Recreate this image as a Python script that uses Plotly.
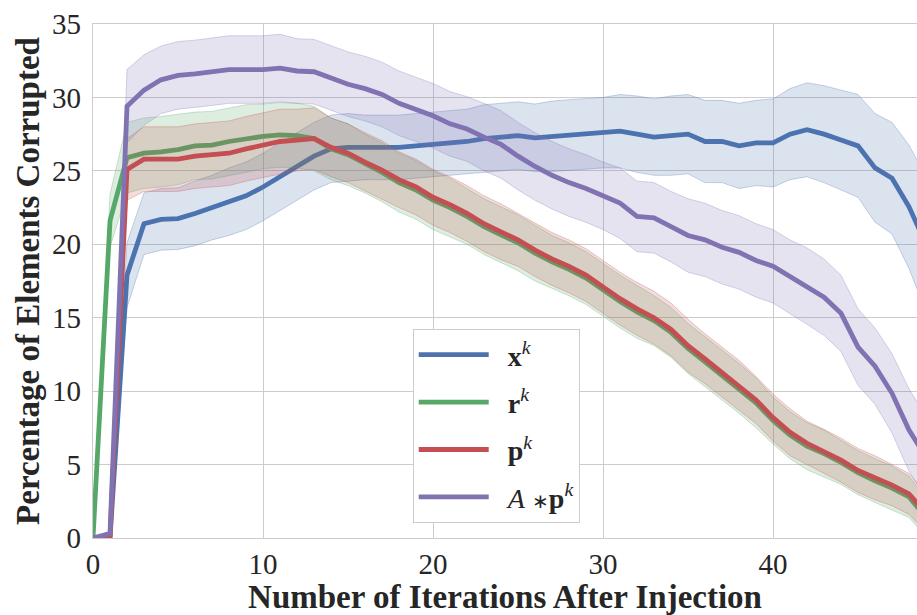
import plotly.graph_objects as go
import numpy as np

# Iterations after fault injection
iterations = list(range(50))

# Mean percentage of corrupted elements per vector
x_k = [0, 0, 17.9, 21.4, 21.7, 21.75, 22.1, 22.5, 22.9, 23.3,
       23.9, 24.6, 25.3, 26.0, 26.5, 26.6, 26.6, 26.6, 26.6, 26.7,
       26.8, 26.85, 27.0, 27.2, 27.3, 27.4, 27.25, 27.35, 27.45, 27.5,
       27.6, 27.7, 27.5, 27.3, 27.4, 27.5, 27.0, 27.0, 26.7, 26.9,
       26.9, 27.5, 27.8, 27.5, 27.1, 26.7, 25.2, 24.5, 22.55, 20.0]
r_k = [0, 21.6, 25.9, 26.2, 26.3, 26.45, 26.7, 26.75, 27.0, 27.2,
       27.35, 27.45, 27.4, 27.2, 26.5, 26.1, 25.5, 24.9, 24.2, 23.7,
       23.0, 22.5, 21.9, 21.2, 20.65, 20.1, 19.4, 18.8, 18.3, 17.7,
       16.9, 16.1, 15.4, 14.8, 14.0, 12.9, 12.0, 11.1, 10.2, 9.2,
       8.0, 7.0, 6.25, 5.75, 5.15, 4.45, 3.9, 3.4, 2.8, 1.4]
p_k = [0, 0, 25.1, 25.8, 25.8, 25.8, 26.0, 26.1, 26.2, 26.5,
       26.75, 27.0, 27.1, 27.2, 26.6, 26.2, 25.6, 25.05, 24.4, 23.9,
       23.2, 22.7, 22.1, 21.4, 20.85, 20.3, 19.6, 19.0, 18.5, 17.9,
       17.1, 16.3, 15.6, 15.0, 14.2, 13.1, 12.2, 11.3, 10.4, 9.4,
       8.2, 7.2, 6.45, 5.9, 5.3, 4.6, 4.1, 3.6, 3.0, 1.7]
Ap_k = [0, 0.3, 29.4, 30.5, 31.2, 31.5, 31.6, 31.75, 31.9, 31.9,
        31.9, 32.0, 31.8, 31.75, 31.3, 30.9, 30.6, 30.2, 29.6, 29.2,
        28.75, 28.2, 27.85, 27.3, 26.8, 26.0, 25.3, 24.7, 24.2, 23.8,
        23.3, 22.8, 21.9, 21.8, 21.2, 20.6, 20.3, 19.8, 19.45, 18.9,
        18.5, 17.8, 17.15, 16.4, 15.3, 13.0, 11.7, 9.85, 7.35, 5.5]

# Half-width of the uncertainty band around each mean
x_k_spread = [0, 0, 2.2, 2.1, 2.1, 2.1, 2.2, 2.2, 2.3, 2.3,
              2.3, 2.3, 2.3, 2.3, 2.3, 2.3, 2.2, 2.2, 2.2, 2.2,
              2.2, 2.2, 2.2, 2.3, 2.3, 2.3, 2.3, 2.4, 2.4, 2.4,
              2.4, 2.5, 2.6, 2.6, 2.7, 2.7, 2.8, 2.8, 2.9, 2.9,
              3.0, 3.1, 3.2, 3.3, 3.4, 3.5, 3.7, 3.8, 4.2, 4.6]
r_k_spread = [0, 1.8, 2.4, 2.4, 2.4, 2.4, 2.3, 2.3, 2.3, 2.3,
              2.2, 2.2, 2.2, 2.2, 2.1, 2.1, 2.0, 2.0, 2.0, 2.0,
              2.0, 2.0, 1.9, 1.9, 1.9, 1.9, 1.9, 1.8, 1.8, 1.8,
              1.8, 1.8, 1.8, 1.7, 1.7, 1.7, 1.7, 1.7, 1.7, 1.7,
              1.6, 1.6, 1.6, 1.6, 1.5, 1.5, 1.5, 1.5, 1.4, 1.3]
p_k_spread = [0, 0, 2.1, 2.2, 2.2, 2.2, 2.2, 2.2, 2.2, 2.2,
              2.2, 2.2, 2.1, 2.1, 2.0, 2.0, 2.0, 2.0, 1.9, 1.9,
              1.9, 1.9, 1.9, 1.9, 1.9, 1.8, 1.8, 1.8, 1.8, 1.8,
              1.8, 1.8, 1.8, 1.8, 1.8, 1.8, 1.7, 1.7, 1.7, 1.6,
              1.6, 1.6, 1.5, 1.5, 1.5, 1.5, 1.5, 1.4, 1.4, 1.3]
Ap_k_spread = [0, 0.2, 2.5, 2.4, 2.3, 2.3, 2.3, 2.3, 2.3, 2.3,
               2.3, 2.3, 2.2, 2.2, 2.2, 2.2, 2.2, 2.2, 2.2, 2.2,
               2.2, 2.2, 2.2, 2.3, 2.3, 2.3, 2.3, 2.3, 2.3, 2.3,
               2.3, 2.4, 2.4, 2.4, 2.4, 2.5, 2.5, 2.5, 2.5, 2.5,
               2.5, 2.5, 2.6, 2.6, 2.6, 2.6, 2.6, 2.7, 2.8, 2.8]

series_names = ["<b>x</b><sup><i>k</i></sup>",
                "<b>r</b><sup><i>k</i></sup>",
                "<b>p</b><sup><i>k</i></sup>",
                "<i>A</i> <span style=\"font-size:20px\">\u2217</span>"
                "<b>p</b><sup><i>k</i></sup>"]
series_means = [x_k, r_k, p_k, Ap_k]
series_spreads = [x_k_spread, r_k_spread, p_k_spread, Ap_k_spread]
series_colors = [(76, 114, 176), (85, 168, 104), (196, 78, 82), (129, 114, 178)]

x_ticks = [0, 10, 20, 30, 40]
y_ticks = [0, 5, 10, 15, 20, 25, 30, 35]

SERIF = "Liberation Serif, Times New Roman, serif"
TEXT = "#262626"

fig = go.Figure()
xs = np.array(iterations)
for i, (name, mean, spread, (r, g, b)) in enumerate(
        zip(series_names, series_means, series_spreads, series_colors)):
    mean = np.array(mean)
    spread = np.array(spread)
    upper = mean + spread
    lower = np.clip(mean - spread, 0, None)
    fig.add_trace(go.Scatter(
        x=np.concatenate([xs, xs[::-1]]),
        y=np.concatenate([upper, lower[::-1]]),
        fill="toself",
        fillcolor=f"rgba({r},{g},{b},0.2)",
        line=dict(color=f"rgba({r},{g},{b},0.3)", width=1),
        mode="lines",
        hoverinfo="skip",
        showlegend=False,
        legendgroup=f"g{i}",
    ))
    fig.add_trace(go.Scatter(
        x=xs, y=mean, mode="lines", name="\u2002" + name,
        legendgroup=f"g{i}",
        line=dict(color=f"rgb({r},{g},{b})", width=4.8),
    ))

fig.update_layout(
    width=917, height=615,
    margin=dict(l=93, r=0, t=24, b=77),
    paper_bgcolor="white",
    plot_bgcolor="white",
    font=dict(family=SERIF, color=TEXT),
    legend=dict(
        x=0.388, y=0.4066, xanchor="left", yanchor="top",
        bgcolor="white", bordercolor="#cccccc", borderwidth=1,
        font=dict(family=SERIF, size=28, color=TEXT),
        itemwidth=70,
        tracegroupgap=8,
    ),
    xaxis=dict(
        range=[0, 48.47],
        tickvals=x_ticks,
        showgrid=True, gridcolor="#cccccc", gridwidth=1.3,
        showline=True, mirror=True, linecolor="#cccccc", linewidth=1.3,
        zeroline=False, ticks="",
        tickfont=dict(family=SERIF, size=29, color=TEXT),
        title=dict(text="<b>Number of Iterations After Injection</b>",
                   font=dict(family=SERIF, size=33, color=TEXT),
                   standoff=2),
    ),
    yaxis=dict(
        range=[0, 35],
        tickvals=y_ticks,
        showgrid=True, gridcolor="#cccccc", gridwidth=1.3,
        showline=True, linecolor="#cccccc", linewidth=1.3,
        zeroline=False, ticks="",
        ticklabelstandoff=5,
        tickfont=dict(family=SERIF, size=29, color=TEXT),
        title=dict(text="<b>Percentage of Elements Corrupted</b>",
                   font=dict(family=SERIF, size=33, color=TEXT),
                   standoff=2),
    ),
)

fig.write_html("out.html")
